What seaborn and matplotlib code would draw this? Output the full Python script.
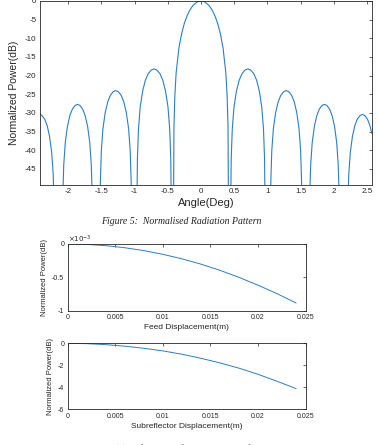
import seaborn as sns
import pandas as pd
import matplotlib.pyplot as plt

# radiation pattern (deg, dB); -60 marks the nulls below the axis
angle_deg = [
    -2.424, -2.394, -2.352, -2.316, -2.280, -2.248, -2.225, -2.211, -2.202,
    -2.089, -2.080, -2.066, -2.043, -2.011, -1.974, -1.937, -1.896, -1.859,
    -1.822, -1.781, -1.744, -1.707, -1.675, -1.652, -1.638, -1.629,
    -1.524, -1.514, -1.500, -1.476, -1.442, -1.404, -1.365, -1.322, -1.283,
    -1.244, -1.201, -1.163, -1.124, -1.090, -1.066, -1.052, -1.042,
    -0.967, -0.957, -0.941, -0.915, -0.878, -0.837, -0.795, -0.748, -0.706,
    -0.664, -0.617, -0.576, -0.534, -0.497, -0.471, -0.455, -0.445,
    -0.415, -0.407, -0.394, -0.374, -0.332, -0.291, -0.249, -0.208, -0.166,
    -0.125, -0.083, -0.042, 0.0, 0.042, 0.083, 0.125, 0.166, 0.208, 0.249,
    0.291, 0.332, 0.374, 0.394, 0.407, 0.415,
    0.445, 0.455, 0.471, 0.497, 0.534, 0.576, 0.617, 0.664, 0.706,
    0.748, 0.795, 0.837, 0.878, 0.915, 0.941, 0.957, 0.967,
    1.042, 1.052, 1.066, 1.090, 1.124, 1.163, 1.201, 1.244, 1.283,
    1.322, 1.365, 1.404, 1.442, 1.476, 1.500, 1.514, 1.524,
    1.629, 1.638, 1.652, 1.675, 1.707, 1.744, 1.781, 1.822, 1.859,
    1.896, 1.937, 1.974, 2.011, 2.043, 2.066, 2.080, 2.089,
    2.202, 2.211, 2.225, 2.248, 2.280, 2.316, 2.352, 2.394, 2.430,
    2.466, 2.508, 2.544, 2.573,
]
power_db = [
    -30.4, -30.7, -31.7, -33.4, -36.3, -40.6, -46.5, -54.4, -60,
    -60, -51.7, -43.8, -37.9, -33.6, -30.7, -29.0, -28.0, -27.7,
    -28.0, -29.0, -30.7, -33.6, -37.9, -43.8, -51.7, -60,
    -60, -48.0, -40.1, -34.2, -29.9, -27.0, -25.3, -24.3, -24.0,
    -24.3, -25.3, -27.0, -29.9, -34.2, -40.1, -48.0, -60,
    -60, -42.2, -34.3, -28.4, -24.1, -21.2, -19.5, -18.5, -18.2,
    -18.5, -19.5, -21.2, -24.1, -28.4, -34.3, -42.2, -60,
    -60, -33.8, -25.6, -19.2, -12.6, -8.7, -5.9, -3.9, -2.4,
    -1.3, -0.6, -0.1, 0.0, -0.1, -0.6, -1.3, -2.4, -3.9, -5.9,
    -8.7, -12.6, -19.2, -25.6, -33.8, -60,
    -60, -42.2, -34.3, -28.4, -24.1, -21.2, -19.5, -18.5, -18.2,
    -18.5, -19.5, -21.2, -24.1, -28.4, -34.3, -42.2, -60,
    -60, -48.0, -40.1, -34.2, -29.9, -27.0, -25.3, -24.3, -24.0,
    -24.3, -25.3, -27.0, -29.9, -34.2, -40.1, -48.0, -60,
    -60, -51.7, -43.8, -37.9, -33.6, -30.7, -29.0, -28.0, -27.7,
    -28.0, -29.0, -30.7, -33.6, -37.9, -43.8, -51.7, -60,
    -60, -54.4, -46.5, -40.6, -36.3, -33.4, -31.7, -30.7, -30.4,
    -30.7, -31.7, -33.4, -35.5,
]

# defocusing curves
displacement_m = [0, 0.002, 0.004, 0.006, 0.008, 0.010, 0.012,
                  0.014, 0.016, 0.018, 0.020, 0.022, 0.024]
feed_power_e3 = [0, -0.006, -0.025, -0.056, -0.099, -0.155, -0.222,
                 -0.302, -0.395, -0.50, -0.618, -0.745, -0.885]
subref_power = [0, -0.03, -0.12, -0.26, -0.45, -0.69, -0.99,
                -1.36, -1.78, -2.26, -2.82, -3.45, -4.12]

angle_ticks = [-2, -1.5, -1, -0.5, 0, 0.5, 1, 1.5, 2, 2.5]
angle_labels = ['-2', '-1.5', '-1', '-0.5', '0', '0.5', '1', '1.5', '2', '2.5']
db_ticks = [-45, -40, -35, -30, -25, -20, -15, -10, -5, 0]
disp_ticks = [0, 0.005, 0.01, 0.015, 0.02, 0.025]
disp_labels = ['0', '0.005', '0.01', '0.015', '0.02', '0.025']

LINE = '#2b7fc1'
INK = '#262626'

sns.set_theme(style='white')
plt.rcParams['font.family'] = ['Liberation Sans', 'DejaVu Sans']

fig = plt.figure(figsize=(3.78, 4.45), dpi=100)
ax1 = fig.add_axes([0.1058, 0.5843, 0.878, 0.4135])
ax2 = fig.add_axes([0.179, 0.3018, 0.6296, 0.1499])
ax3 = fig.add_axes([0.179, 0.0802, 0.6296, 0.1483])


def style(ax, fs):
    for sp in ax.spines.values():
        sp.set_color(INK)
        sp.set_linewidth(0.6)
    ax.tick_params(direction='in', length=2.5, width=0.5, colors=INK,
                   labelsize=fs, top=True, right=True, pad=2.5)


df = pd.DataFrame({'angle': angle_deg, 'power': power_db})
sns.lineplot(data=df, x='angle', y='power', ax=ax1, color=LINE, lw=0.8,
             estimator=None, sort=False)
ax1.set_xlim(-2.424, 2.573)
ax1.set_ylim(-49.3, 0)
ax1.set_xticks(angle_ticks, angle_labels)
ax1.set_yticks(db_ticks, [str(t) for t in db_ticks])
ax1.set_xlabel('Angle(Deg)', fontsize=8, color=INK, labelpad=2)
ax1.set_ylabel('Normalized Power(dB)', fontsize=7.5, color=INK, labelpad=4)
style(ax1, 5.8)

df2 = pd.DataFrame({'d': displacement_m, 'p': feed_power_e3})
sns.lineplot(data=df2, x='d', y='p', ax=ax2, color=LINE, lw=0.7, estimator=None)
ax2.set_xlim(0, 0.025)
ax2.set_ylim(-1, 0)
ax2.set_xticks(disp_ticks, disp_labels)
ax2.set_yticks([-1, -0.5, 0], ['-1', '-0.5', '0'])
ax2.set_xlabel('Feed Displacement(m)', fontsize=6, color=INK, labelpad=2)
ax2.set_ylabel('Normalized Power(dB)', fontsize=5.5, color=INK, labelpad=3)
ax2.text(0.0, 0.99, r'$\times10^{-3}$', transform=ax2.transAxes,
         fontsize=5, color=INK, ha='left', va='bottom')
style(ax2, 5)

df3 = pd.DataFrame({'d': displacement_m, 'p': subref_power})
sns.lineplot(data=df3, x='d', y='p', ax=ax3, color=LINE, lw=0.7, estimator=None)
ax3.set_xlim(0, 0.025)
ax3.set_ylim(-6, 0)
ax3.set_xticks(disp_ticks, disp_labels)
ax3.set_yticks([-6, -4, -2, 0], ['-6', '-4', '-2', '0'])
ax3.set_xlabel('Subreflector Displacement(m)', fontsize=6, color=INK, labelpad=2)
ax3.set_ylabel('Normalized Power(dB)', fontsize=5.5, color=INK, labelpad=3)
style(ax3, 5)

fig.text(0.479, 1 - 221 / 445, 'Figure 5:  Normalised Radiation Pattern',
         fontsize=7, family='Liberation Serif', style='italic',
         ha='center', va='center', color='#222222')
# second caption only peeks in at the bottom edge, as in the page scan
fig.text(0.455, 1 / 445, 'Figure 6:  (a) Defocusing of Feed and Subreflector',
         fontsize=7, family='Liberation Serif', style='italic',
         ha='center', va='top', color='#222222')

fig.savefig('out.png', dpi=100)
